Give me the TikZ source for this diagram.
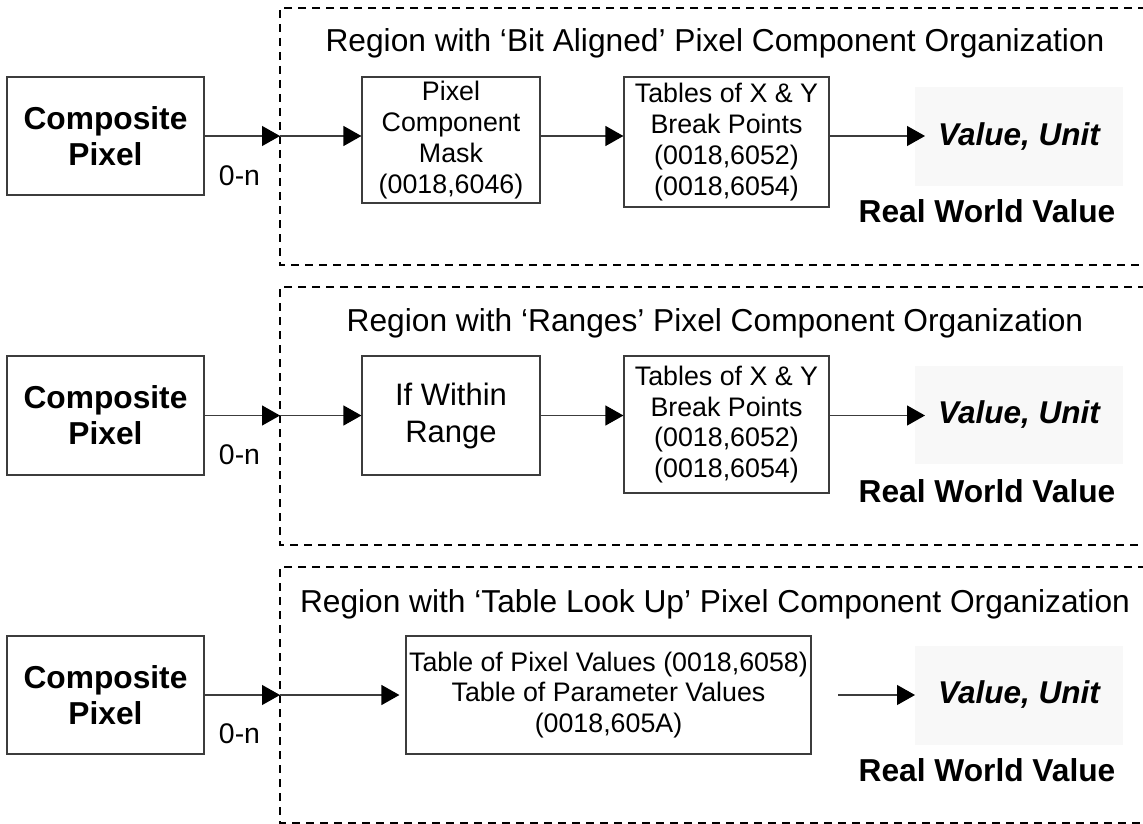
\documentclass[tikz,border=0pt]{standalone}
\usepackage{fontspec}
\setmainfont{Liberation Sans}
\usetikzlibrary{arrows.meta}
\definecolor{edge}{RGB}{60,60,60}
\definecolor{valbg}{RGB}{248,248,248}
\begin{document}
\begin{tikzpicture}[x=1pt,y=-1pt,
  box/.style={draw=edge, line width=1.2pt, fill=white, inner sep=0pt, align=center,
    font=\fontsize{26.8}{30.8}\selectfont},
  cpbox/.style={box, minimum width=197pt, minimum height=118pt,
    font=\bfseries\fontsize{31.7}{36}\selectfont},
  valbox/.style={fill=valbg, inner sep=0pt, minimum width=208pt, minimum height=99pt,
    font=\bfseries\itshape\fontsize{31.5}{36}\selectfont},
  region/.style={draw=black, line width=1.4pt, dash pattern=on 8pt off 6pt},
  flow/.style={draw=edge, line width=1.2pt, -{Triangle[length=18pt,width=20pt,color=black]}},
  titletext/.style={anchor=base, inner sep=0pt, font=\fontsize{31.7}{36}\selectfont},
  rwvtext/.style={anchor=base, inner sep=0pt, font=\bfseries\fontsize{31.7}{36}\selectfont},
  multtext/.style={anchor=base, inner sep=0pt, font=\fontsize{28.4}{32}\selectfont}
]
\useasboundingbox (0,0) rectangle (1143,824);
\fill[white] (0,0) rectangle (1143,824);

% ---------- regions ----------
\draw[region] (1160,8) -- (280,8) -- (280,265) -- (1160,265);
\draw[region] (1160,287) -- (280,287) -- (280,545) -- (1160,545);
\draw[region] (1160,567) -- (280,567) -- (280,823) -- (1160,823);

% ---------- panel 1 : Bit Aligned ----------
\node[titletext] (t1) at (715,52) {Region with ‘Bit Aligned’ Pixel Component Organization};
\node[cpbox] (cp1) at (105.5,136) {Composite\\Pixel};
\node[box, minimum width=178pt, minimum height=126pt] (mask) at (451,140) {Pixel\\Component\\Mask\\(0018,6046)};
\node[box, minimum width=205pt, minimum height=130pt] (tab1) at (726.5,142) {Tables of X \& Y\\Break Points\\(0018,6052)\\(0018,6054)};
\node[valbox] (val1) at (1019,136.5) {Value, Unit};
\node[rwvtext] (rw1) at (987,222) {Real World Value};
\node[multtext] (m1) at (239.5,185) {0-n};
\coordinate (in1) at (280,136);
\coordinate (out1) at (925,136);
\draw[flow] (cp1.east) -- (in1);
\draw[flow] (in1) -- (in1 -| mask.west);
\draw[flow] (mask.east |- in1) -- (in1 -| tab1.west);
\draw[flow] (tab1.east |- in1) -- (out1);

% ---------- panel 2 : Ranges ----------
\node[titletext] (t2) at (715,331) {Region with ‘Ranges’ Pixel Component Organization};
\node[cpbox, minimum height=119pt] (cp2) at (105.5,415.5) {Composite\\Pixel};
\node[box, minimum width=178pt, minimum height=119pt,
      font=\fontsize{31}{37}\selectfont] (range) at (451,415.5) {If Within\\Range};
\node[box, minimum width=205pt, minimum height=137pt] (tab2) at (726.5,424.5) {Tables of X \& Y\\Break Points\\(0018,6052)\\(0018,6054)};
\node[valbox, minimum height=98pt] (val2) at (1019,415) {Value, Unit};
\node[rwvtext] (rw2) at (987,502) {Real World Value};
\node[multtext] (m2) at (239.5,464) {0-n};
\coordinate (in2) at (280,415.5);
\coordinate (out2) at (925,415.5);
\draw[flow] (cp2.east) -- (in2);
\draw[flow] (in2) -- (in2 -| range.west);
\draw[flow] (range.east |- in2) -- (in2 -| tab2.west);
\draw[flow] (tab2.east |- in2) -- (out2);

% ---------- panel 3 : Table Look Up ----------
\node[titletext] (t3) at (715,612) {Region with ‘Table Look Up’ Pixel Component Organization};
\node[cpbox] (cp3) at (105.5,695) {Composite\\Pixel};
\node[box, minimum width=405pt, minimum height=118pt] (tab3) at (608.5,695) {Table of Pixel Values (0018,6058)\\Table of Parameter Values\\(0018,605A)};
\node[valbox] (val3) at (1019,695) {Value, Unit};
\node[rwvtext] (rw3) at (987,781) {Real World Value};
\node[multtext] (m3) at (239.5,743) {0-n};
\coordinate (in3) at (280,695);
\coordinate (from3) at (838,695);
\coordinate (out3) at (915,695);
\draw[flow] (cp3.east) -- (in3);
\draw[flow] (in3) -- ([xshift=-6pt]in3 -| tab3.west);
\draw[flow] (from3) -- (out3);
\end{tikzpicture}
\end{document}
